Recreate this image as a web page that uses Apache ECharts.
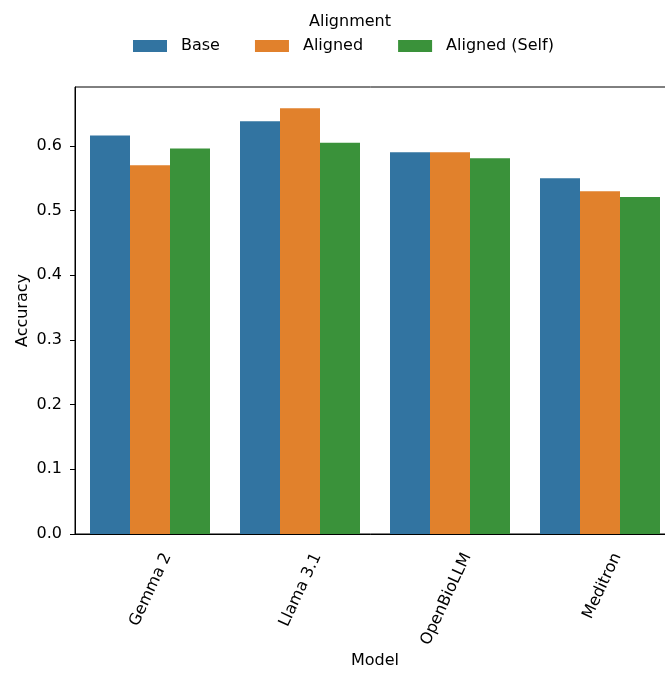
<!DOCTYPE html>
<html><head><meta charset="utf-8">
<script src="https://cdn.jsdelivr.net/npm/echarts@6/dist/echarts.min.js"></script>
<style>html,body{margin:0;padding:0;background:#fff}#c{width:665px;height:677px}</style>
</head><body><div id="c"></div>
<script>
const categories = ['Gemma 2', 'Llama 3.1', 'OpenBioLLM', 'Meditron'];
const seriesNames = ['Base', 'Aligned', 'Aligned (Self)'];
const baseValues = [0.616, 0.638, 0.590, 0.550];
const alignedValues = [0.570, 0.658, 0.590, 0.530];
const alignedSelfValues = [0.596, 0.605, 0.581, 0.521];
const colors = ['#3274a1', '#e1812c', '#3a923a'];
const yTicks = [0.0, 0.1, 0.2, 0.3, 0.4, 0.5, 0.6];

const font = 'DejaVu Sans';
const chart = echarts.init(document.getElementById('c'), null, {renderer: 'canvas'});
const values = [baseValues, alignedValues, alignedSelfValues];
chart.setOption({
  animation: false,
  textStyle: {fontFamily: font},
  title: {text: 'Alignment', left: 345, top: 9, textAlign: 'center',
    textStyle: {fontFamily: font, fontSize: 16, fontWeight: 'normal', color: '#000'}},
  legend: {
    left: 128, top: 33, itemWidth: 34, itemHeight: 12, itemGap: 35,
    icon: 'rect',
    textStyle: {fontFamily: font, fontSize: 16, color: '#000', padding: [0, 0, 0, 9]},
    data: seriesNames
  },
  grid: {left: 75, top: 87, width: 600, height: 447, show: true, borderColor: '#000', borderWidth: 1,
    outerBoundsMode: 'none', containLabel: false},
  xAxis: {
    type: 'category', data: categories,
    name: 'Model', nameLocation: 'middle', nameGap: 119, nameMoveOverlap: false,
    nameTextStyle: {fontFamily: font, fontSize: 16, color: '#000'},
    axisLine: {lineStyle: {color: '#000', width: 1}},
    axisTick: {alignWithLabel: true, length: 5, lineStyle: {color: '#000'}},
    axisLabel: {rotate: 65, margin: 12, fontFamily: font, fontSize: 16, color: '#000',
      verticalAlign: 'top', lineHeight: 38}
  },
  yAxis: {
    type: 'value', min: 0, max: 0.691, interval: 0.1,
    name: 'Accuracy', nameLocation: 'middle', nameGap: 44, nameMoveOverlap: false,
    nameTextStyle: {fontFamily: font, fontSize: 16, color: '#000'},
    axisLine: {show: true, lineStyle: {color: '#000', width: 1}},
    axisTick: {show: true, length: 5, lineStyle: {color: '#000'},
      customValues: yTicks},
    splitLine: {show: false},
    axisLabel: {fontFamily: font, fontSize: 16, color: '#000', margin: 13,
      customValues: yTicks,
      formatter: v => v.toFixed(1)}
  },
  series: seriesNames.map((n, i) => ({
    name: n, type: 'bar', data: values[i], barWidth: 40, barGap: '0%',
    barCategoryGap: '20%',
    itemStyle: {color: colors[i]}
  }))
});
</script></body></html>
